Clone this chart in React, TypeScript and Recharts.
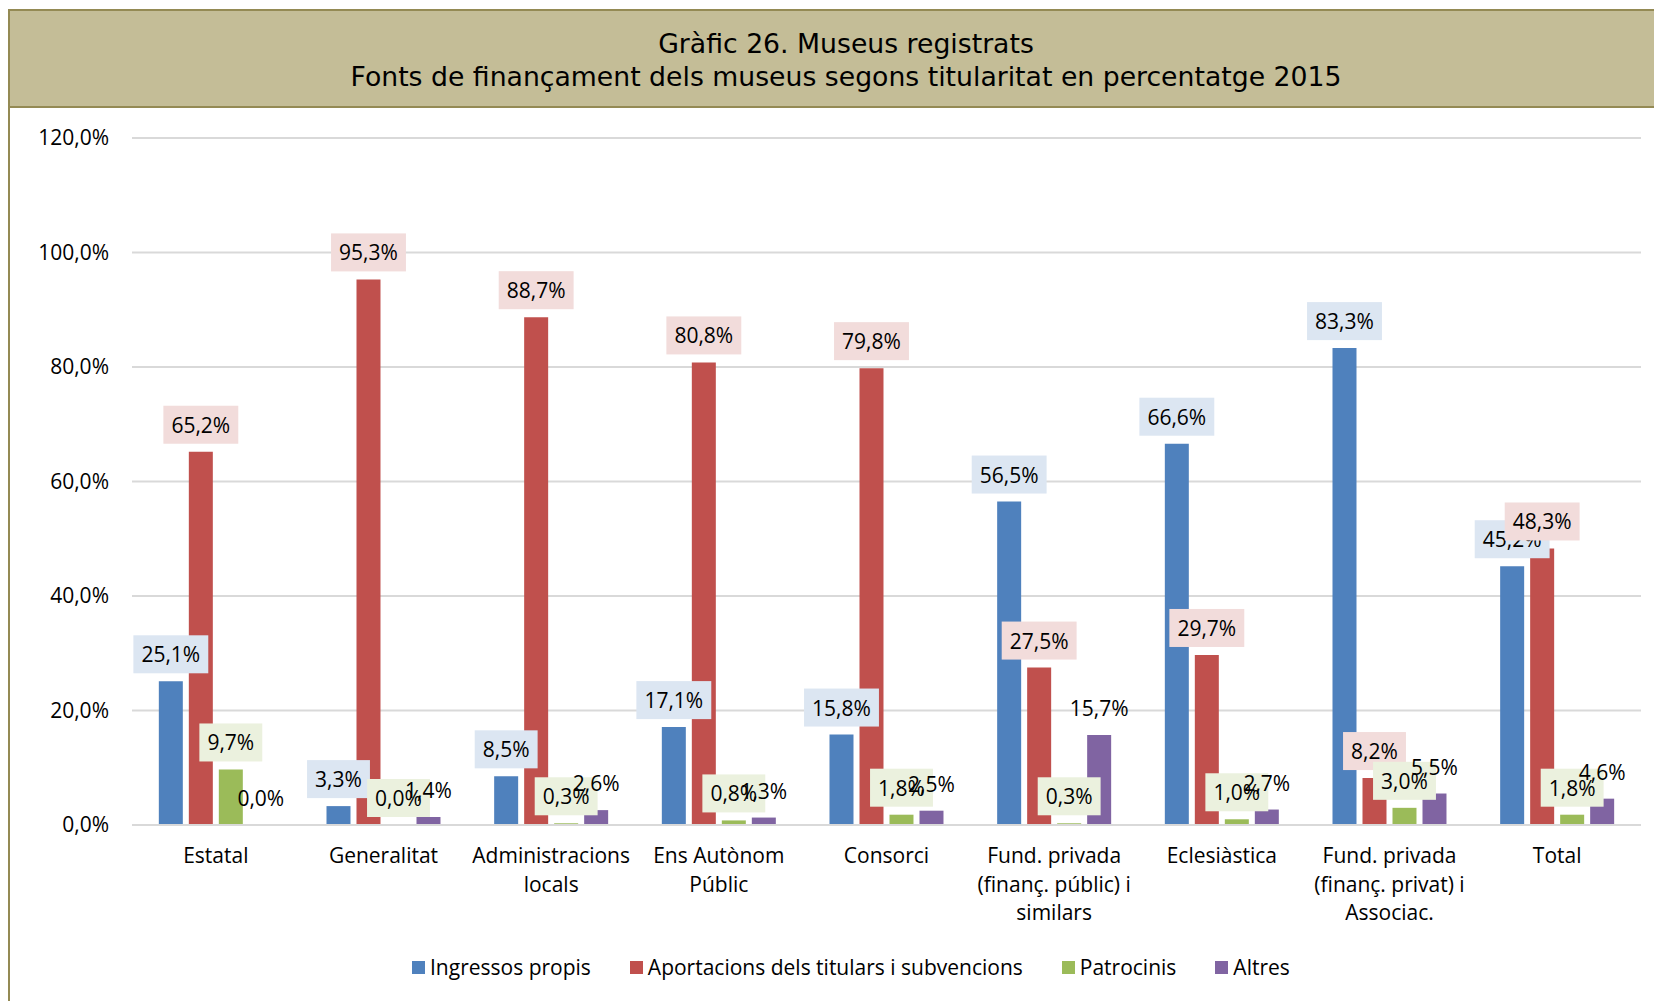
import React from "react";
import { Bar, BarChart, CartesianGrid, LabelList, XAxis, YAxis } from "recharts";

const CATEGORIES = [
  "Estatal",
  "Generalitat",
  "Administracions\nlocals",
  "Ens Autònom\nPúblic",
  "Consorci",
  "Fund. privada\n(finanç. públic) i\nsimilars",
  "Eclesiàstica",
  "Fund. privada\n(finanç. privat) i\nAssociac.",
  "Total",
];
const INGRESSOS = [25.1, 3.3, 8.5, 17.1, 15.8, 56.5, 66.6, 83.3, 45.2];
const APORTACIONS = [65.2, 95.3, 88.7, 80.8, 79.8, 27.5, 29.7, 8.2, 48.3];
const PATROCINIS = [9.7, 0.0, 0.3, 0.8, 1.8, 0.3, 1.0, 3.0, 1.8];
const ALTRES = [0.0, 1.4, 2.6, 1.3, 2.5, 15.7, 2.7, 5.5, 4.6];
const Y_TICKS = [0, 20, 40, 60, 80, 100, 120];

const SERIES = [
  { key: "ingressos", name: "Ingressos propis", color: "#4F81BD", tint: "#DCE6F2" },
  { key: "aportacions", name: "Aportacions dels titulars i subvencions", color: "#C0504D", tint: "#F2DCDB" },
  { key: "patrocinis", name: "Patrocinis", color: "#9BBB59", tint: "#EBF1DE" },
  { key: "altres", name: "Altres", color: "#8064A2", tint: null as string | null },
];

const data = CATEGORIES.map((c, i) => ({
  cat: c,
  ingressos: INGRESSOS[i],
  aportacions: APORTACIONS[i],
  patrocinis: PATROCINIS[i],
  altres: ALTRES[i],
}));

const FONT = "'Open Sans', sans-serif";
const W = 1654;
const H = 993;
const MARGIN = { top: 130, right: 21, bottom: 76, left: 14 };

const fmt = (v: number) => v.toFixed(1).replace(".", ",") + "%";

// rough text width for Open Sans 21px
const textW = (s: string) =>
  s.split("").reduce((a, ch) => a + (ch === "," ? 5.5 : ch === "%" ? 17.4 : 12), 0);

const makeLabel = (tint: string | null) => (p: any) => {
  const x = Number(p.x), y = Number(p.y), w = Number(p.width), h = Number(p.height) || 0;
  const v = Number(p.value);
  const txt = fmt(v);
  const cx = x + w / 2;
  // overlay bars use minPointSize so zero values still get a label; anchor on the real bar top
  const top = v === 0 ? y + h : y;
  const cy = top - 27;
  const bw = textW(txt) + 16;
  return (
    <g>
      {tint && <rect x={cx - bw / 2} y={cy - 19} width={bw} height={38} fill={tint} />}
      <text x={cx} y={cy} textAnchor="middle" dominantBaseline="central" fontSize={21} fontFamily={FONT} fill="#000">
        {txt}
      </text>
    </g>
  );
};

const CatTick = (p: any) => {
  const lines = String(p.payload.value).split("\n");
  return (
    <text x={p.x} y={p.y} textAnchor="middle" fontSize={21} fontFamily={FONT} fill="#000">
      {lines.map((l, i) => (
        <tspan key={i} x={p.x} dy={i === 0 ? 38 : 28.5}>
          {l}
        </tspan>
      ))}
    </text>
  );
};

function Chart({ overlay }: { overlay: boolean }) {
  return (
    <BarChart width={W} height={H} data={data} margin={MARGIN} barCategoryGap="16%" barGap={6}>
      {!overlay && <CartesianGrid vertical={false} stroke="#D9D9D9" strokeWidth={2} />}
      <XAxis
        dataKey="cat"
        height={100}
        tickLine={false}
        tickSize={0}
        tickMargin={0}
        axisLine={overlay ? false : { stroke: "#D9D9D9", strokeWidth: 2 }}
        tick={overlay ? false : <CatTick />}
        interval={0}
      />
      <YAxis
        domain={[0, 120]}
        ticks={Y_TICKS}
        width={110}
        tickLine={false}
        tickSize={0}
        tickMargin={23}
        axisLine={false}
        tickFormatter={fmt}
        tick={overlay ? false : { fontSize: 21, fontFamily: FONT, fill: "#000" }}
      />
      {SERIES.map((s) => (
        <Bar
          key={s.key}
          dataKey={s.key}
          fill={overlay ? "transparent" : s.color}
          minPointSize={overlay ? 1 : 0}
          isAnimationActive={false}
        >
          {overlay && <LabelList dataKey={s.key} content={makeLabel(s.tint)} />}
        </Bar>
      ))}
    </BarChart>
  );
}

export default function App() {
  return (
    <div style={{ position: "relative", width: W, height: H, background: "#fff", fontFamily: FONT }}>
      <style>{"html,body{overflow:hidden}"}</style>
      <div
        style={{
          position: "absolute",
          left: 0,
          top: 1,
          width: W + 20,
          height: 99,
          boxSizing: "border-box",
          background: "#C4BD97",
          borderTop: "2px solid #948A54",
          borderBottom: "2px solid #948A54",
          fontFamily: "'DejaVu Sans', Verdana, sans-serif",
          fontSize: 26.7,
          color: "#000",
          textAlign: "center",
          lineHeight: "33px",
          paddingTop: 16,
          paddingLeft: 2,
        }}
      >
        <div>Gràfic 26. Museus registrats</div>
        <div>Fonts de finançament dels museus segons titularitat en percentatge 2015</div>
      </div>
      <div style={{ position: "absolute", left: 0, top: 1, width: 2, height: H - 1, background: "#948A54" }} />
      <div style={{ position: "absolute", left: 0, top: 0 }}>
        <Chart overlay={false} />
      </div>
      <div style={{ position: "absolute", left: 0, top: 0 }}>
        <Chart overlay={true} />
      </div>
      <div
        style={{
          position: "absolute",
          left: 404,
          top: 945,
          display: "flex",
          alignItems: "center",
          fontSize: 21,
          color: "#000",
          whiteSpace: "nowrap",
        }}
      >
        {SERIES.map((s) => (
          <div key={s.key} style={{ display: "flex", alignItems: "center", marginRight: 39 }}>
            <span style={{ display: "inline-block", width: 13, height: 13, background: s.color, marginRight: 5 }} />
            <span>{s.name}</span>
          </div>
        ))}
      </div>
    </div>
  );
}
